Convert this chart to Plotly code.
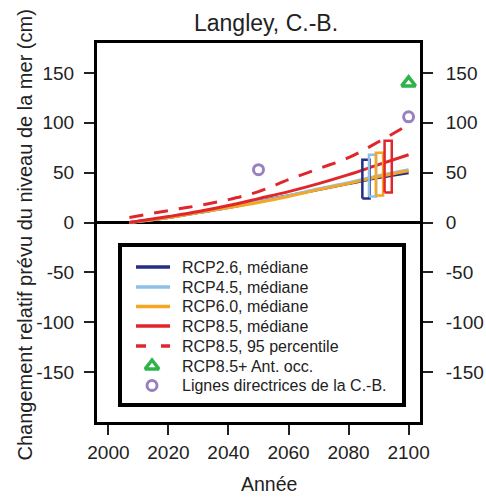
import plotly.graph_objects as go

# Projected relative sea-level change, Langley (B.C.), cm
years = [2007, 2020, 2030, 2040, 2050, 2060, 2070, 2080, 2090, 2100]
rcp26_med = [0, 5, 10, 15, 21, 27, 33, 39, 45, 50]
rcp45_med = [0, 5, 10, 15, 21, 27, 34, 40, 47, 53]
rcp60_med = [0, 5, 10, 15, 20, 26, 33, 39, 46, 52]
rcp85_med = [0, 6, 11, 17, 24, 31, 39, 48, 58, 68]
rcp85_p95 = [5, 12, 17, 23, 31, 43, 54, 65, 81, 98]

# 2100 likely ranges (low, high)
scenarios = ["RCP2.6", "RCP4.5", "RCP6.0", "RCP8.5"]
range_low = [24, 26, 27, 30]
range_high = [63, 68, 70, 82]

# Additional markers
ant_year = [2100]
ant_value = [140]
bc_years = [2050, 2100]
bc_values = [53, 106]

x_ticks = [2000, 2020, 2040, 2060, 2080, 2100]
y_ticks = [-150, -100, -50, 0, 50, 100, 150]

navy = "#262d84"
lightblue = "#8ec0e8"
orange = "#f5a623"
red = "#e1262b"
green = "#2fb34b"
purple = "#9a80bf"
colors = [navy, lightblue, orange, red]

W, H = 486, 500
ML, MR, MT, MB = 97, 66, 43, 78
PW, PH = W - ML - MR, H - MT - MB


def px_x(p):
    return (p - ML) / PW


def px_y(p):
    return (H - MB - p) / PH


fig = go.Figure()

series = [
    ("RCP2.6, médiane", rcp26_med, navy),
    ("RCP4.5, médiane", rcp45_med, lightblue),
    ("RCP6.0, médiane", rcp60_med, orange),
    ("RCP8.5, médiane", rcp85_med, red),
]
for name, vals, col in series:
    fig.add_trace(go.Scatter(
        x=years, y=vals, mode="lines", name=name, showlegend=False,
        line=dict(color=col, width=3, shape="spline"),
    ))

fig.add_trace(go.Scatter(
    x=years, y=rcp85_p95, mode="lines", name="RCP8.5, 95 percentile",
    showlegend=False,
    line=dict(color=red, width=3, dash="14px,11px", shape="spline"),
))

# Likely-range boxes beside the 2100 end of each median
box_centers = [2085.8, 2088.0, 2090.3, 2093.2]
box_half = 1.2
for c, lo, hi, col in zip(box_centers, range_low, range_high, colors):
    fig.add_trace(go.Scatter(
        x=[c - box_half, c + box_half, c + box_half, c - box_half, c - box_half],
        y=[lo, lo, hi, hi, lo],
        mode="lines", showlegend=False, hoverinfo="skip",
        line=dict(color=col, width=2.5),
    ))

tri_marker = dict(symbol="triangle-up-open", size=12, color=green,
                  line=dict(width=3.5, color=green))
circ_marker = dict(symbol="circle-open", size=10, color=purple,
                   line=dict(width=3, color=purple))

fig.add_trace(go.Scatter(x=ant_year, y=ant_value, mode="markers",
                         name="RCP8.5+ Ant. occ.", showlegend=False,
                         marker=tri_marker))
fig.add_trace(go.Scatter(x=bc_years, y=bc_values, mode="markers",
                         name="Lignes directrices de la C.-B.", showlegend=False,
                         marker=circ_marker))

# Invisible trace carrying the right-hand axis
fig.add_trace(go.Scatter(x=[2000], y=[0], yaxis="y2", mode="markers",
                         marker=dict(opacity=0), showlegend=False, hoverinfo="skip"))

# Legend panel drawn on an inset subplot (pixel-like coordinates)
leg_left, leg_top, leg_right, leg_bottom = 122, 247, 402, 403
leg_rows = [267, 287, 306.5, 326, 346, 366, 385.5]
leg_labels = ["RCP2.6, médiane", "RCP4.5, médiane", "RCP6.0, médiane",
              "RCP8.5, médiane", "RCP8.5, 95 percentile",
              "RCP8.5+ Ant. occ.", "Lignes directrices de la C.-B."]
leg_styles = [("line", navy, "solid"), ("line", lightblue, "solid"),
              ("line", orange, "solid"), ("line", red, "solid"),
              ("line", red, "10px,15px"), ("tri", None, None), ("circ", None, None)]
sym_x0, sym_x1, text_x = 136, 170, 180

for row, (kind, col, dash) in zip(leg_rows, leg_styles):
    if kind == "line":
        fig.add_trace(go.Scatter(x=[sym_x0, sym_x1], y=[row, row], mode="lines",
                                 xaxis="x2", yaxis="y3", showlegend=False,
                                 hoverinfo="skip",
                                 line=dict(color=col, width=3.5, dash=dash)))
    else:
        fig.add_trace(go.Scatter(x=[(sym_x0 + sym_x1) / 2 - 1], y=[row], mode="markers",
                                 xaxis="x2", yaxis="y3", showlegend=False,
                                 hoverinfo="skip",
                                 marker=tri_marker if kind == "tri" else circ_marker))

font = "Liberation Sans, Arial, Helvetica, sans-serif"
ink = "#222"

annotations = [
    dict(text=lab, x=text_x, y=row, xref="x2", yref="y3", xanchor="left",
         yanchor="middle", showarrow=False, font=dict(size=16, color=ink))
    for lab, row in zip(leg_labels, leg_rows)
]
annotations += [
    dict(text="Langley, C.-B.", x=px_x(265.5), y=px_y(23), xref="paper", yref="paper",
         xanchor="center", yanchor="middle", showarrow=False,
         font=dict(size=23, color=ink)),
    dict(text="Année", x=px_x(268.5), y=px_y(484), xref="paper", yref="paper",
         xanchor="center", yanchor="middle", showarrow=False,
         font=dict(size=19.5, color=ink)),
    dict(text="Changement relatif prévu du niveau de la mer (cm)",
         x=px_x(24), y=px_y(235.5), xref="paper", yref="paper",
         xanchor="center", yanchor="middle", textangle=-90, showarrow=False,
         font=dict(size=20, color=ink)),
]

y_range = [-200, 180]
y_text = [str(v) for v in y_ticks]
tick_common = dict(ticks="outside", ticklen=10, tickwidth=2, tickcolor=ink,
                   showgrid=False, showline=True, linecolor="black", linewidth=3,
                   automargin=False)

fig.update_layout(
    width=W, height=H,
    margin=dict(l=ML, r=MR, t=MT, b=MB, autoexpand=False),
    paper_bgcolor="white", plot_bgcolor="white",
    font=dict(family=font, size=19, color=ink),
    showlegend=False,
    annotations=annotations,
    xaxis=dict(range=[1996.2, 2103.8], tickvals=x_ticks, zeroline=False,
               mirror=True, ticklabelstandoff=1, **tick_common),
    yaxis=dict(range=y_range, tickvals=y_ticks, ticktext=y_text,
               zeroline=True, zerolinecolor="black", zerolinewidth=3,
               ticklabelstandoff=6, **tick_common),
    yaxis2=dict(range=y_range, tickvals=y_ticks, ticktext=y_text,
                overlaying="y", side="right", zeroline=False,
                ticklabelstandoff=9, **tick_common),
    xaxis2=dict(domain=[px_x(leg_left), px_x(leg_right)], range=[leg_left, leg_right],
                anchor="y3", showgrid=False, zeroline=False, showticklabels=False,
                showline=True, mirror=True, linecolor="black", linewidth=3.5,
                automargin=False),
    yaxis3=dict(domain=[px_y(leg_bottom), px_y(leg_top)], range=[leg_bottom, leg_top],
                anchor="x2", showgrid=False, zeroline=False, showticklabels=False,
                showline=True, mirror=True, linecolor="black", linewidth=3.5,
                automargin=False),
)

fig.write_html("out.html")
